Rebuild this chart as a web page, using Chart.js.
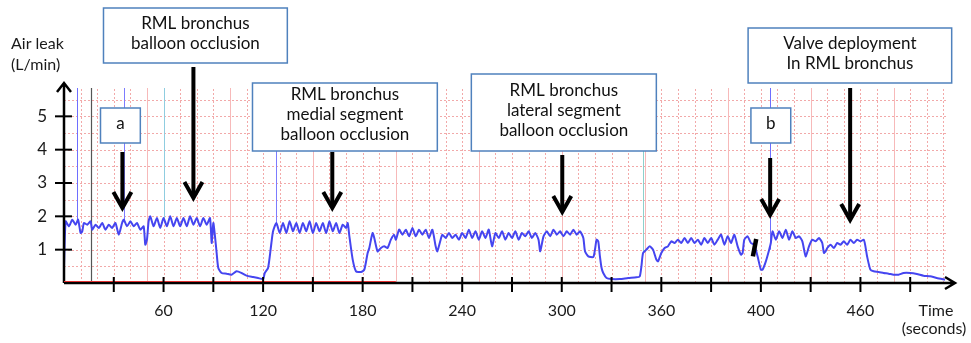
<!DOCTYPE html>
<html>
<head>
<meta charset="utf-8">
<script src="https://cdn.jsdelivr.net/npm/chart.js@4.4.1/dist/chart.umd.min.js"></script>
<style>
  html, body { margin: 0; padding: 0; background: #fff; }
  #wrap { width: 971px; height: 343px; }
</style>
</head>
<body>
<div id="wrap"><canvas id="leakChart" width="971" height="343"></canvas></div>
<script>
// air leak trace (seconds -> L/min)
const seconds = [
  0, 1, 3, 5, 7, 8.5, 10, 11, 12, 14, 16, 17,
  19, 21, 23, 25, 27, 29, 31, 33, 35, 36, 38, 40,
  42, 44, 46, 48, 49, 50, 51, 52, 54, 56, 58, 60,
  62, 64, 66, 68, 70, 72, 74, 76, 78, 80, 82, 84,
  86, 88, 89, 90, 91, 92, 93, 95, 98, 101, 104, 107,
  110, 114, 117, 120, 121, 123, 125, 126, 128, 130, 132, 134,
  136, 138, 140, 142, 144, 146, 148, 150, 152, 154, 156, 158,
  160, 162, 164, 166, 168, 170, 171, 172, 174, 176, 179, 181,
  183, 184, 185, 186, 187, 189, 191, 193, 195, 197, 199, 200,
  202, 204, 206, 208, 210, 212, 214, 216, 218, 220, 222, 224,
  225, 227, 228, 230, 232, 234, 236, 238, 240, 242, 244, 246,
  248, 250, 252, 254, 256, 258, 260, 262, 264, 266, 268, 270,
  272, 274, 276, 278, 280, 282, 284, 286, 287, 289, 291, 293,
  295, 297, 299, 301, 303, 305, 307, 309, 311, 313, 314, 316,
  319, 320, 321, 322, 323, 324, 325, 327, 330, 335, 340, 345,
  347, 348, 349, 351, 353, 355, 357, 358, 360, 362, 364, 366,
  368, 370, 372, 374, 376, 378, 380, 382, 384, 386, 388, 390,
  392, 394, 396, 398, 400, 402, 404, 406, 408, 409, 410, 412,
  414, 416, 418, 420, 421, 423, 425, 426, 427, 429, 431, 433,
  435, 437, 439, 441, 443, 445, 447, 449, 451, 453, 455, 457,
  458, 459, 460, 462, 464, 466, 468, 470, 472, 474, 476, 478,
  480, 482, 483, 484, 486, 488, 491, 494, 497, 500, 503, 506,
  510, 514, 518, 522, 526, 531
];
const airLeak = [
  0.5, 1.85, 1.7, 1.9, 1.75, 1.9, 1.5, 1.55, 1.8, 1.75, 1.85, 1.6,
  1.75, 1.65, 1.8, 1.6, 1.75, 1.65, 1.8, 1.45, 1.8, 1.9, 1.7, 1.85,
  1.7, 1.8, 1.6, 1.7, 1.15, 1.3, 1.85, 2.0, 1.7, 1.95, 1.65, 1.95,
  1.7, 2.0, 1.7, 1.95, 1.7, 1.95, 1.7, 2.0, 1.75, 1.95, 1.7, 1.95,
  1.75, 1.95, 1.2, 1.8, 1.4, 0.9, 0.45, 0.3, 0.28, 0.25, 0.35, 0.3,
  0.22, 0.18, 0.15, 0.12, 0.3, 0.45, 1.2, 1.55, 1.8, 1.5, 1.8, 1.5,
  1.85, 1.55, 1.8, 1.5, 1.8, 1.55, 1.85, 1.5, 1.8, 1.55, 1.8, 1.5,
  1.85, 1.55, 1.8, 1.5, 1.75, 1.65, 1.8, 1.4, 0.7, 0.35, 0.33, 0.4,
  0.9, 1.05, 1.3, 1.5, 1.35, 0.95, 1.05, 1.1, 1.05, 1.3, 1.45, 1.3,
  1.6, 1.45, 1.6, 1.4, 1.65, 1.4, 1.6, 1.45, 1.6, 1.35, 1.6, 1.1,
  0.95, 1.3, 1.45, 1.35, 1.5, 1.35, 1.45, 1.3, 1.5, 1.35, 1.6, 1.35,
  1.55, 1.3, 1.55, 1.35, 1.6, 1.1, 1.5, 1.35, 1.55, 1.3, 1.5, 1.35,
  1.55, 1.3, 1.5, 1.4, 1.55, 1.35, 1.5, 1.3, 0.95, 1.4, 1.55, 1.4,
  1.6, 1.45, 1.55, 1.4, 1.55, 1.45, 1.6, 1.45, 1.55, 1.35, 0.95, 0.8,
  0.78, 1.0, 1.3, 1.25, 0.8, 0.45, 0.3, 0.15, 0.12, 0.12, 0.15, 0.17,
  0.2, 0.5, 0.9, 1.0, 1.1, 1.0, 0.7, 0.65, 0.9, 1.05, 1.1, 1.25,
  1.2, 1.3, 1.2, 1.35, 1.2, 1.35, 1.2, 1.3, 1.15, 1.35, 1.2, 1.35,
  1.15, 1.3, 1.45, 1.15, 1.4, 1.2, 1.45, 1.1, 0.85, 0.9, 1.3, 1.4,
  1.2, 1.15, 0.8, 0.4, 0.4, 0.65, 1.0, 1.2, 1.55, 1.3, 1.55, 1.35,
  1.6, 1.3, 1.55, 1.35, 1.4, 1.25, 0.8, 1.1, 1.3, 1.25, 1.35, 1.2,
  0.9, 0.95, 1.05, 1.15, 1.05, 1.2, 1.15, 1.25, 1.15, 1.3, 1.2, 1.3,
  1.25, 1.3, 1.1, 0.8, 0.4, 0.35, 0.33, 0.3, 0.28, 0.25, 0.25, 0.3,
  0.3, 0.27, 0.22, 0.2, 0.15, 0.1
];

// axis ticks (the recording labels its last two ticks 400 and 460)
const xTickPos = [60, 120, 180, 240, 300, 360, 420, 480];
const xTickText = ['60', '120', '180', '240', '300', '360', '400', '460'];
const xTickMarks = [30, 60, 90, 120, 150, 180, 210, 240, 270, 300, 330, 360, 390, 420, 450, 480, 510];
const yTickPos = [1, 2, 3, 4, 5];

// event marker lines on the recording: time and where they stop
const markerSec = [8, 16, 36, 60, 128, 349, 425.5];
const markerEnd = [1.85, 0, 1.85, 1.95, 1.75, 0.9, 1.0];

const FONT = 'Lato, "Open Sans", sans-serif';
const markerColors = ['#6e6eff', '#555555', '#7c7cff', '#8fcde0', '#7c7cff', '#8dd0cc', '#6e6eff'];

// callout boxes, placed in axis units (seconds, L/min)
const notes = [
    { lines: ['a'], x0: 22, x1: 46, y0: 5.25, y1: 4.2, ax: 35.2, ay0: 3.93, ay1: 2.25 },
    { lines: ['RML bronchus', 'balloon occlusion'], x0: 23.8, x1: 134.6, y0: 8.25, y1: 6.6, ax: 78, ay0: 6.48, ay1: 2.55 },
    { lines: ['RML bronchus', 'medial segment', 'balloon occlusion'], x0: 113.6, x1: 225, y0: 6.0, y1: 3.96, ax: 161.7, ay0: 3.93, ay1: 2.25 },
    { lines: ['RML bronchus', 'lateral segment', 'balloon occlusion'], x0: 245.5, x1: 357, y0: 6.27, y1: 3.96, ax: 300.3, ay0: 3.84, ay1: 2.13 },
    { lines: ['b'], x0: 414, x1: 438, y0: 5.25, y1: 4.2, ax: 425.6, ay0: 3.75, ay1: 2.04 },
    { lines: ['Valve deployment', 'In RML bronchus'], x0: 412.3, x1: 535, y0: 7.65, y1: 6.0, ax: 473.8, ay0: 5.85, ay1: 1.89 }
];

const gridPlugin = {
    id: 'pinkGrid',
    beforeDatasetsDraw(chart) {
        const { ctx, scales: { x, y } } = chart;
        ctx.save();
        ctx.lineWidth = 1;
        // horizontal dotted lines every 0.5
        ctx.strokeStyle = '#f2a9a9';
        ctx.setLineDash([2, 2]);
        for (let v = 0.5; v <= 5.5; v += 0.5) {
            const py = Math.round(y.getPixelForValue(v)) + 0.5;
            ctx.beginPath();
            ctx.moveTo(x.getPixelForValue(0), py);
            ctx.lineTo(x.getPixelForValue(532), py);
            ctx.stroke();
        }
        // vertical lines every 10 s, solid every 50 s
        for (let t = 10; t <= 530; t += 10) {
            const px = Math.round(x.getPixelForValue(t)) + 0.5;
            const solid = t % 50 === 0;
            ctx.setLineDash(solid ? [] : [2, 2]);
            ctx.strokeStyle = solid ? '#f7b9b9' : '#f2a9a9';
            ctx.beginPath();
            ctx.moveTo(px, y.getPixelForValue(0));
            ctx.lineTo(px, y.getPixelForValue(5.85));
            ctx.stroke();
        }
        ctx.setLineDash([]);
        // marker lines
        markerSec.forEach((t, i) => {
            const px = Math.round(x.getPixelForValue(t)) + 0.5;
            ctx.strokeStyle = markerColors[i];
            ctx.lineWidth = i === 1 ? 1.2 : 1;
            ctx.beginPath();
            ctx.moveTo(px, y.getPixelForValue(5.85));
            ctx.lineTo(px, y.getPixelForValue(markerEnd[i]));
            ctx.stroke();
        });
        ctx.restore();
    }
};

const drawArrowDown = (ctx, px, top, bottom) => {
    ctx.beginPath();
    ctx.moveTo(px, top);
    ctx.lineTo(px, bottom - 2);
    ctx.stroke();
    ctx.beginPath();
    ctx.moveTo(px - 9, bottom - 16);
    ctx.lineTo(px, bottom);
    ctx.lineTo(px + 9, bottom - 16);
    ctx.stroke();
};

const overlayPlugin = {
    id: 'overlay',
    afterDraw(chart) {
        const { ctx, scales: { x, y } } = chart;
        const x0 = x.getPixelForValue(0);
        const y0 = y.getPixelForValue(0);
        const yTop = y.getPixelForValue(6);
        const xEnd = x.getPixelForValue(537);
        ctx.save();

        // axes with open arrowheads
        ctx.strokeStyle = '#000';
        ctx.lineWidth = 2.5;
        ctx.lineCap = 'butt';
        ctx.beginPath();
        ctx.moveTo(x0, y0);
        ctx.lineTo(x0, yTop + 1);
        ctx.moveTo(x0 - 7, yTop + 9);
        ctx.lineTo(x0, yTop);
        ctx.lineTo(x0 + 7, yTop + 9);
        ctx.moveTo(x0, y0);
        ctx.lineTo(xEnd - 1, y0);
        ctx.moveTo(xEnd - 10, y0 - 6);
        ctx.lineTo(xEnd, y0);
        ctx.lineTo(xEnd - 10, y0 + 6);
        ctx.stroke();

        // red baseline over the first part of the axis
        ctx.strokeStyle = '#e03030';
        ctx.lineWidth = 1;
        ctx.beginPath();
        ctx.moveTo(x0, y0 - 1.5);
        ctx.lineTo(x.getPixelForValue(200), y0 - 1.5);
        ctx.stroke();

        // tick marks
        ctx.strokeStyle = '#000';
        ctx.lineWidth = 2;
        xTickMarks.forEach(t => {
            const px = x.getPixelForValue(t);
            ctx.beginPath();
            ctx.moveTo(px, y0 - 6);
            ctx.lineTo(px, y0 + 9);
            ctx.stroke();
        });
        yTickPos.forEach(v => {
            const py = y.getPixelForValue(v);
            ctx.beginPath();
            ctx.moveTo(x0 - 9, py);
            ctx.lineTo(x0 + 8, py);
            ctx.stroke();
        });

        // break mark before valve deployment
        ctx.lineWidth = 4.5;
        ctx.beginPath();
        ctx.moveTo(x.getPixelForValue(415.2), y.getPixelForValue(0.8));
        ctx.lineTo(x.getPixelForValue(417.2), y.getPixelForValue(1.32));
        ctx.stroke();

        // axis titles
        ctx.fillStyle = '#1a1a1a';
        ctx.font = `16px ${FONT}`;
        ctx.textBaseline = 'middle';
        ctx.textAlign = 'left';
        ctx.fillText('Air leak', 11, 44);
        ctx.fillText('(L/min)', 11, 65);
        ctx.textAlign = 'center';
        ctx.fillText('Time', 936, 311);
        ctx.fillText('(seconds)', 934, 329);

        // callouts
        notes.forEach(n => {
            const bx = x.getPixelForValue(n.x0);
            const by = y.getPixelForValue(n.y0);
            const bw = x.getPixelForValue(n.x1) - bx;
            const bh = y.getPixelForValue(n.y1) - by;
            ctx.fillStyle = '#fff';
            ctx.fillRect(bx, by, bw, bh);
            ctx.strokeStyle = '#4f81bd';
            ctx.lineWidth = 1.5;
            ctx.strokeRect(bx, by, bw, bh);
            ctx.fillStyle = '#111';
            ctx.font = `17px ${FONT}`;
            ctx.textAlign = 'center';
            const lh = 20;
            const cy = by + bh / 2 - ((n.lines.length - 1) * lh) / 2 - 2;
            n.lines.forEach((line, i) => ctx.fillText(line, bx + bw / 2, cy + i * lh));

            ctx.strokeStyle = '#000';
            ctx.lineWidth = 4;
            drawArrowDown(ctx, x.getPixelForValue(n.ax), y.getPixelForValue(n.ay0), y.getPixelForValue(n.ay1));
        });
        ctx.restore();
    }
};

new Chart(document.getElementById('leakChart'), {
    type: 'line',
    data: {
        datasets: [{
            label: 'Air leak',
            data: seconds.map((t, i) => ({ x: t, y: airLeak[i] })),
            borderColor: '#4545f0',
            borderWidth: 2,
            pointRadius: 0,
            tension: 0.2
        }]
    },
    options: {
        responsive: false,
        animation: false,
        layout: { padding: { top: 83, right: 16, left: 0, bottom: 0 } },
        plugins: { legend: { display: false }, tooltip: { enabled: false } },
        scales: {
            x: {
                type: 'linear',
                min: 0,
                max: 537,
                afterBuildTicks: s => { s.ticks = xTickPos.map(v => ({ value: v })); },
                afterFit: s => { s.height = 60; },
                ticks: {
                    callback: (v, i) => xTickText[i],
                    font: { family: FONT, size: 16 },
                    color: '#1a1a1a',
                    padding: 18,
                    maxRotation: 0
                },
                grid: { display: false, drawTicks: false },
                border: { display: false }
            },
            y: {
                min: 0,
                max: 6,
                afterBuildTicks: s => { s.ticks = yTickPos.map(v => ({ value: v })); },
                afterFit: s => { s.width = 64; },
                ticks: {
                    font: { family: FONT, size: 17 },
                    color: '#1a1a1a',
                    padding: 17
                },
                grid: { display: false, drawTicks: false },
                border: { display: false }
            }
        }
    },
    plugins: [gridPlugin, overlayPlugin]
});
</script>
</body>
</html>
